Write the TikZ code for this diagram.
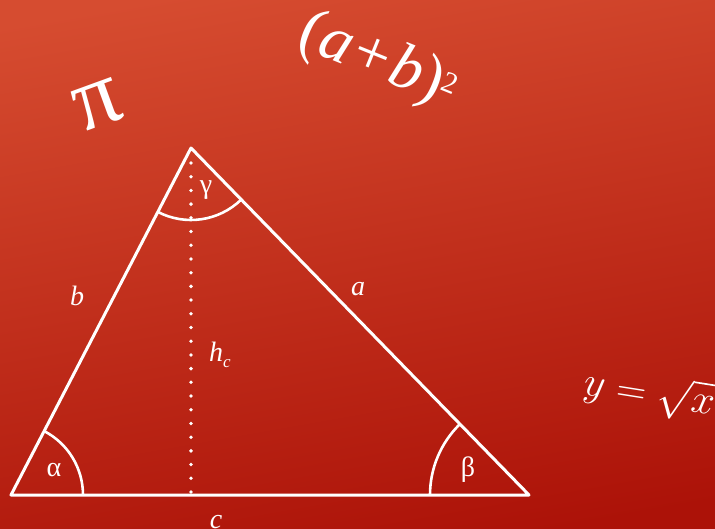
\documentclass[tikz,border=0pt]{standalone}
\usepackage{fontspec}
\setmainfont{Liberation Serif}
\usetikzlibrary{angles}
\definecolor{bgtop}{RGB}{214,76,48}
\definecolor{bgbot}{RGB}{172,18,8}
\begin{document}
\begin{tikzpicture}[x=1pt,y=1pt,line join=round,
  edge/.style={draw=white,line width=3pt},
  arcline/.style={draw=white,line width=2.6pt},
  dotline/.style={draw=white,line width=3.8pt,line cap=round,dash pattern=on 0pt off 13.708pt},
  lbl/.style={text=white,inner sep=0pt,font=\fontsize{28}{28}\selectfont\itshape},
  greek/.style={text=white,inner sep=0pt,font=\fontsize{28}{28}\selectfont},
  deco/.style={text=white,inner sep=0pt}]
\useasboundingbox (0,0) rectangle (715,528);
\clip (0,0) rectangle (715,528);
\shade[top color=bgtop,bottom color=bgbot,shading angle=10] (-20,-20) rectangle (735,548);
% triangle
\coordinate (A) at (11,33);
\coordinate (B) at (529,33);
\coordinate (C) at (191,380);
\coordinate (Dtop) at (191,365);
\coordinate (Dbot) at (191,36);
\draw[edge] (A) -- (B) -- (C) -- cycle;
\draw[dotline] (Dtop) -- (Dbot);
\pic[arcline,angle radius=72pt] {angle=B--A--C};
\pic[arcline,angle radius=99pt] {angle=C--B--A};
\pic[arcline,angle radius=72pt] {angle=A--C--B};
% labels
\node[greek] (alpha) at (54,58) {α};
\node[greek] (beta) at (468,58) {β};
\node[greek] (gamma) at (206,338) {γ};
\node[lbl] (lb) at (77,232) {b};
\node[lbl] (la) at (358,239) {a};
\node[lbl,anchor=base west] (hc) at (209,166) {h\raisebox{-0.2em}{\fontsize{17}{17}\selectfont c}};
\node[lbl] (lc) at (216,6) {c};
% decorations
\node[deco,font=\fontsize{92}{92}\selectfont,rotate=20] (pi) at (98,423) {π};
\node[deco,font=\fontsize{64}{64}\selectfont\itshape,rotate=-22] (ab) at (378,466) {\upshape(\itshape a\hspace{0.06em}\upshape+\hspace{0.06em}\itshape b\upshape)\raisebox{0.2em}{\fontsize{30}{30}\selectfont 2}};
\node[deco,font=\fontsize{20}{20}\selectfont,rotate=-9,anchor=west] (yx) at (584,144) {\scalebox{2}{$y = \sqrt{x\,}$}};
\end{tikzpicture}
\end{document}
